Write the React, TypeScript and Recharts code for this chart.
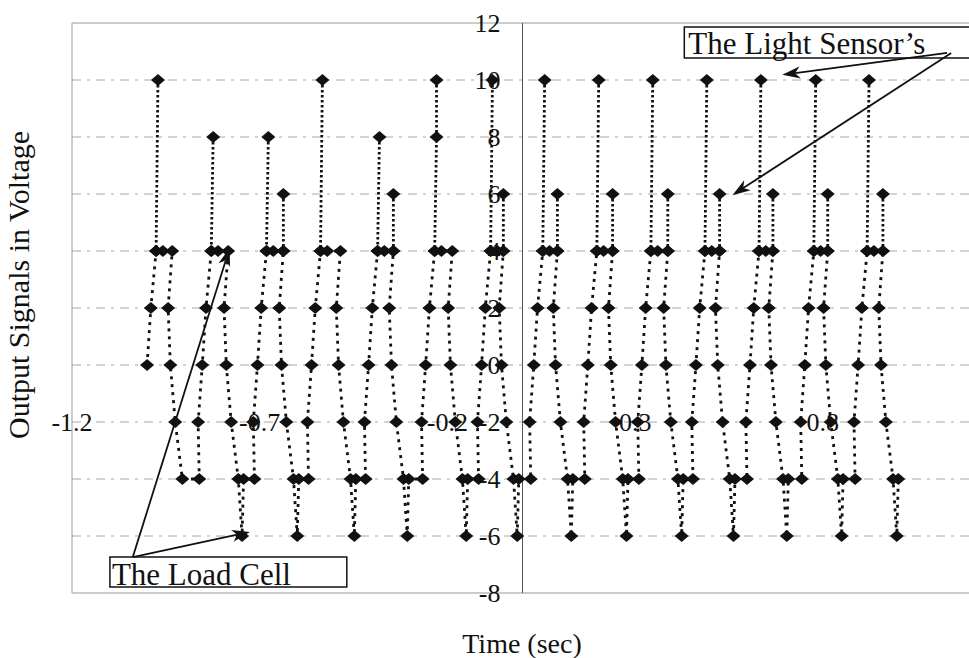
import {
  CartesianGrid,
  Line,
  LineChart,
  ReferenceArea,
  ReferenceDot,
  ReferenceLine,
  XAxis,
  YAxis,
} from "recharts";

// Time (sec) of the tall light-sensor spike in each cycle, and its peak readings.
const spikeTimes = [-0.971, -0.824, -0.677, -0.533, -0.381, -0.229, -0.08, 0.059, 0.203, 0.347, 0.491, 0.635, 0.781, 0.923];
const spikePeaks = [[10], [8], [8], [10], [8], [10, 8], [10], [10], [10], [10], [10], [10], [10], [10]];
// Second (short) spike of each cycle; a peak of 4 means no spike above the plateau.
const echoTimes = [-0.933, -0.784, -0.637, -0.485, -0.344, -0.187, -0.051, 0.093, 0.24, 0.387, 0.525, 0.667, 0.813, 0.96];
const echoPeaks = [4, 4, 6, 4, 6, 4, 6, 6, 6, 6, 6, 6, 6, 6];
// Lowest load-cell reading after each fall (-4 = no undershoot).
const dipLevels = [-4, -6, -6, -6, -6, -6, -6, -6, -6, -6, -6, -6, -6, -6];
const firstRiseLevel = 0; // the record starts part-way up the first rise

// Load-cell readings on the rising edge, with their time relative to the spike.
const riseLevels = [-4, -2, 0, 2, 4];
const riseLag = [-0.037, -0.04, -0.029, -0.019, -0.005];
const plateauLag = 0.013;
// Falling edge, timed from the short spike.
const fallLevels = [2, 0, -2, -4];
const fallLag = [-0.011, -0.005, 0.008, 0.027];
const dipLag = [0.037, 0.041];

const yTicks = [12, 10, 8, 6, 4, 2, 0, -2, -4, -6, -8];
const xTicks = [-1.2, -0.7, -0.2, 0.3, 0.8];
const gridLevels = [10, 8, 6, 4, 2, 0, -2, -4, -6];

type Pt = { t: number; v: number | null };

const lightData: Pt[] = [];
spikeTimes.forEach((t, k) => {
  spikePeaks[k].forEach((v) => lightData.push({ t, v }));
  lightData.push({ t: t + riseLag[4], v: 4 }, { t, v: null });
  if (echoPeaks[k] > 4) {
    lightData.push({ t: echoTimes[k], v: echoPeaks[k] }, { t: echoTimes[k], v: 4 }, { t: echoTimes[k], v: null });
  }
});

const loadData: Pt[] = [];
spikeTimes.forEach((t, k) => {
  riseLevels.forEach((v, i) => {
    if (k > 0 || v >= firstRiseLevel) loadData.push({ t: t + riseLag[i], v });
  });
  loadData.push({ t: t + plateauLag, v: 4 }, { t: echoTimes[k], v: 4 });
  fallLevels.forEach((v, i) => loadData.push({ t: echoTimes[k] + fallLag[i], v }));
  if (dipLevels[k] < -4) {
    loadData.push({ t: echoTimes[k] + dipLag[0], v: dipLevels[k] }, { t: echoTimes[k] + dipLag[1], v: -4 });
  }
});

const INK = "#111";
const SERIF = "'Liberation Serif', 'Times New Roman', serif";

function Diamond(props: any) {
  const { cx, cy, index } = props;
  if (cx == null || cy == null || Number.isNaN(cy)) return <g key={`d-${index}`} />;
  return (
    <polygon
      key={`d-${index}`}
      points={`${cx},${cy - 6} ${cx + 7},${cy} ${cx},${cy + 6} ${cx - 7},${cy}`}
      fill={INK}
    />
  );
}

function Arrow(props: any) {
  const { x1, y1, x2, y2 } = props;
  const a = Math.atan2(y2 - y1, x2 - x1);
  const len = 18;
  const half = 6;
  const bx = x2 - len * Math.cos(a);
  const by = y2 - len * Math.sin(a);
  const nx = x2 - (len - 5) * Math.cos(a);
  const ny = y2 - (len - 5) * Math.sin(a);
  const pts = `${x2},${y2} ${bx + half * Math.sin(a)},${by - half * Math.cos(a)} ${nx},${ny} ${bx - half * Math.sin(a)},${by + half * Math.cos(a)}`;
  return (
    <g>
      <line x1={x1} y1={y1} x2={nx} y2={ny} stroke={INK} strokeWidth={1.8} />
      <polygon points={pts} fill={INK} />
    </g>
  );
}

const tickLabel = { fill: INK, fontSize: 26, fontFamily: SERIF };
const boxLabel = { fill: INK, fontSize: 31, fontFamily: SERIF };

export default function App() {
  return (
    <div style={{ position: "absolute", left: 0, top: 0, width: 969, height: 658, background: "#fff", overflow: "hidden" }}>
      <LineChart width={969} height={658} margin={{ top: 23, right: -4, bottom: 65, left: 72 }}>
        <XAxis type="number" dataKey="t" domain={[-1.2, 1.2]} allowDataOverflow hide />
        <YAxis type="number" domain={[-8, 12]} ticks={yTicks} allowDataOverflow hide />
        <CartesianGrid
          vertical={false}
          horizontalValues={gridLevels}
          stroke="#a8a8a8"
          strokeDasharray="9 6 3 6"
        />
        <ReferenceArea x1={-1.2} x2={1.2} y1={-8} y2={12} fill="none" stroke="#9a9a9a" strokeWidth={1} ifOverflow="visible" />
        <ReferenceLine x={0} stroke="#555" strokeWidth={1} />

        <Line
          data={loadData}
          dataKey="v"
          name="Load cell"
          stroke={INK}
          strokeWidth={2.8}
          strokeDasharray="3 5"
          dot={Diamond}
          activeDot={false}
          connectNulls={false}
          isAnimationActive={false}
        />
        <Line
          data={lightData}
          dataKey="v"
          name="Light sensor"
          stroke={INK}
          strokeWidth={2.8}
          strokeDasharray="2.5 2.5"
          dot={Diamond}
          activeDot={false}
          connectNulls={false}
          isAnimationActive={false}
        />

        {yTicks.map((v) => (
          <ReferenceDot
            key={`y${v}`}
            x={0}
            y={v}
            r={0}
            fill="none"
            stroke="none"
            ifOverflow="visible"
            label={{ value: String(v), position: "left", offset: 22, ...tickLabel }}
          />
        ))}
        {xTicks.map((t) => (
          <ReferenceDot
            key={`x${t}`}
            x={t}
            y={-2}
            r={0}
            fill="none"
            stroke="none"
            ifOverflow="visible"
            label={{ value: String(t), position: "center", ...tickLabel }}
          />
        ))}

        <ReferenceArea
          x1={0.431}
          x2={1.2}
          y1={10.77}
          y2={11.86}
          fill="none"
          stroke={INK}
          strokeWidth={1.5}
          ifOverflow="visible"
          label={{ value: "The Light Sensor\u2019s", position: "insideBottomLeft", offset: 4, ...boxLabel }}
        />
        <ReferenceArea
          x1={-1.099}
          x2={-0.468}
          y1={-7.79}
          y2={-6.74}
          fill="none"
          stroke={INK}
          strokeWidth={1.5}
          ifOverflow="visible"
          label={{ value: "The Load Cell", position: "insideBottomLeft", offset: 2, ...boxLabel }}
        />

        <ReferenceLine segment={[{ x: 1.131, y: 10.95 }, { x: 0.692, y: 10.18 }]} shape={Arrow} ifOverflow="visible" />
        <ReferenceLine segment={[{ x: 1.142, y: 10.95 }, { x: 0.559, y: 5.96 }]} shape={Arrow} ifOverflow="visible" />
        <ReferenceLine segment={[{ x: -1.038, y: -6.74 }, { x: -0.78, y: 4.11 }]} shape={Arrow} ifOverflow="visible" />
        <ReferenceLine segment={[{ x: -1.038, y: -6.74 }, { x: -0.726, y: -5.86 }]} shape={Arrow} ifOverflow="visible" />
      </LineChart>

      <div
        style={{
          position: "absolute",
          left: 19,
          top: 285,
          transform: "translate(-50%, -50%) rotate(-90deg)",
          whiteSpace: "nowrap",
          fontFamily: SERIF,
          fontSize: 30,
          color: INK,
        }}
      >
        Output Signals in Voltage
      </div>
      <div
        style={{
          position: "absolute",
          left: 522,
          top: 644,
          transform: "translate(-50%, -50%)",
          whiteSpace: "nowrap",
          fontFamily: SERIF,
          fontSize: 28,
          color: INK,
        }}
      >
        Time (sec)
      </div>
    </div>
  );
}
